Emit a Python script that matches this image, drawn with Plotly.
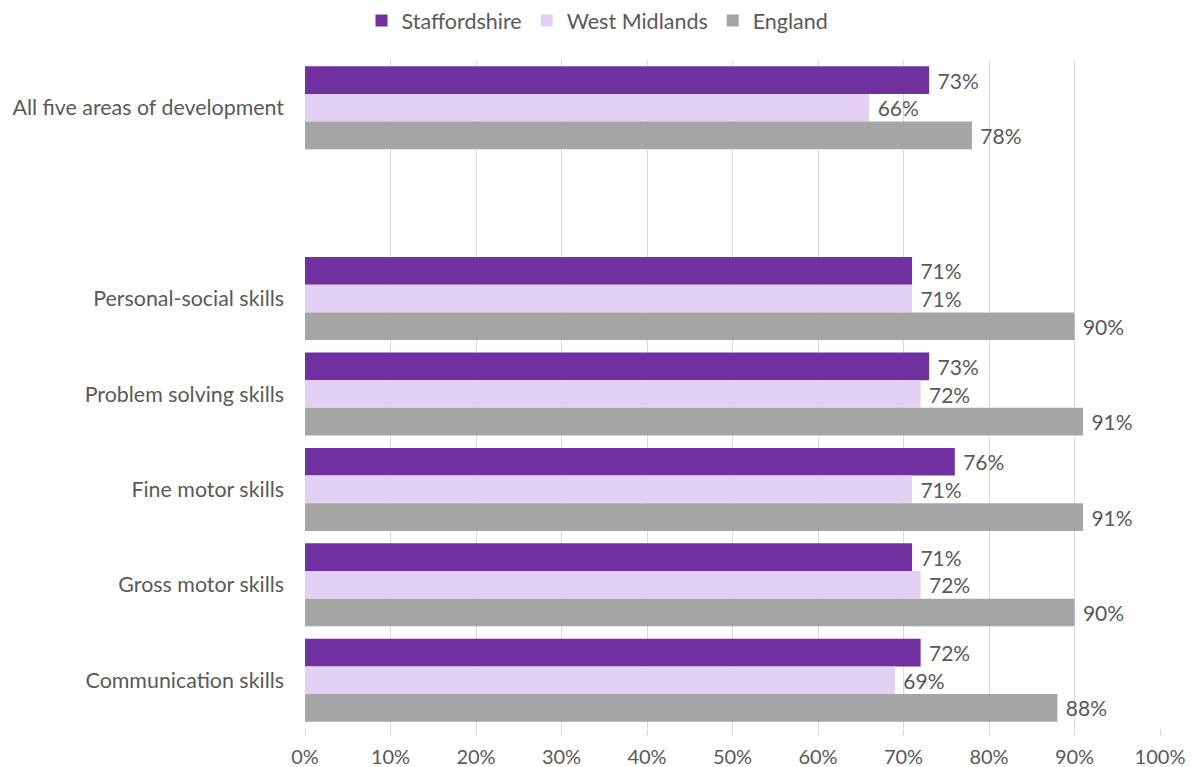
import plotly.graph_objects as go

# Categories top to bottom; the blank entry leaves a spacer row under the summary
categories = [
    "All five areas of development",
    " ",
    "Personal-social skills",
    "Problem solving skills",
    "Fine motor skills",
    "Gross motor skills",
    "Communication skills",
]

staffordshire = [73, None, 71, 73, 76, 71, 72]
west_midlands = [66, None, 71, 72, 71, 72, 69]
england = [78, None, 90, 91, 91, 90, 88]

x_ticks = list(range(0, 101, 10))
x_tick_labels = [f"{v}%" for v in x_ticks]

series = [
    ("Staffordshire", staffordshire, "#7030A0"),
    ("West Midlands", west_midlands, "#E2D0F2"),
    ("England", england, "#A5A5A5"),
]

FONT = "Lato, 'Open Sans', sans-serif"
TEXT_COLOR = "#595959"
NBSP = "\u00a0"

fig = go.Figure()
for name, values, color in series:
    fig.add_trace(
        go.Bar(
            name=name,
            y=categories,
            x=values,
            orientation="h",
            marker=dict(color=color, line=dict(width=0)),
            text=[f"{NBSP}{v}%" if v is not None else "" for v in values],
            textposition="outside",
            textfont=dict(family=FONT, size=21, color=TEXT_COLOR),
            cliponaxis=False,
            hoverinfo="skip",
        )
    )

fig.update_layout(
    width=1195,
    height=767,
    barmode="group",
    bargap=0.13,
    bargroupgap=0,
    plot_bgcolor="white",
    paper_bgcolor="white",
    margin=dict(l=305, r=35, t=60, b=39, autoexpand=False),
    font=dict(family=FONT, size=20, color=TEXT_COLOR),
    legend=dict(
        orientation="h",
        xref="container",
        yref="container",
        x=0.5,
        xanchor="center",
        y=1.0,
        yanchor="top",
        font=dict(family=FONT, size=21.5, color=TEXT_COLOR),
        traceorder="normal",
        itemwidth=30,
    ),
    xaxis=dict(
        range=[0, 100],
        tickvals=x_ticks,
        ticktext=x_tick_labels,
        showgrid=True,
        gridcolor="#D9D9D9",
        gridwidth=1,
        zeroline=False,
        showline=False,
        ticks="outside",
        ticklen=7,
        tickcolor="#D9D9D9",
        ticklabelstandoff=4,
        automargin=False,
        tickfont=dict(family=FONT, size=20, color=TEXT_COLOR),
        fixedrange=True,
    ),
    yaxis=dict(
        type="category",
        categoryorder="array",
        categoryarray=categories,
        autorange="reversed",
        showgrid=False,
        zeroline=False,
        showline=False,
        ticks="",
        ticklabelstandoff=20,
        automargin=False,
        tickfont=dict(family=FONT, size=21.4, color=TEXT_COLOR),
        fixedrange=True,
    ),
)

fig.write_html("out.html")
